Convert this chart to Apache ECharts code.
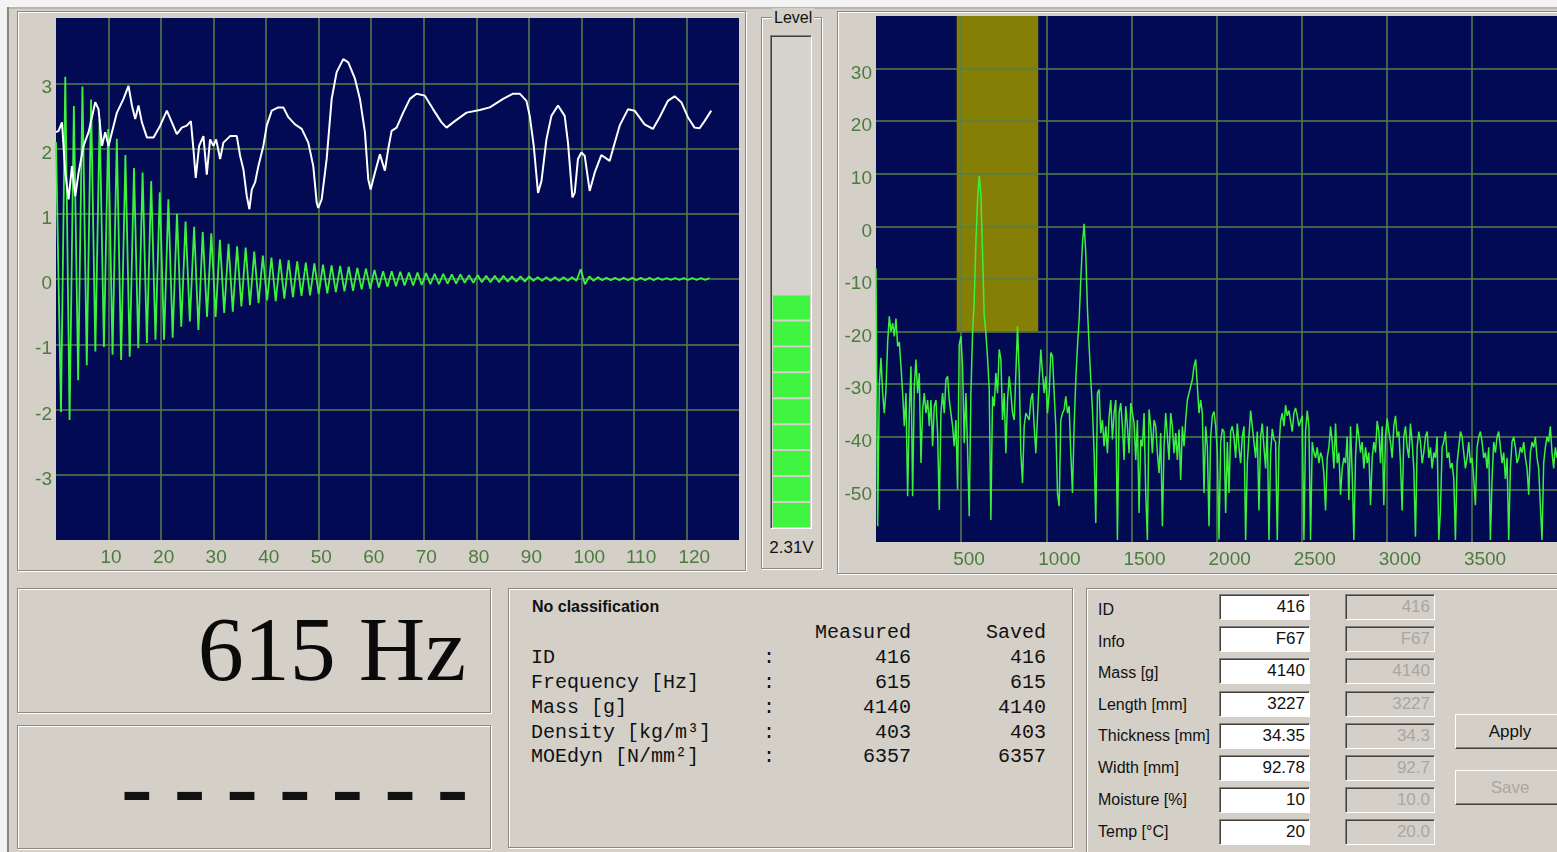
<!DOCTYPE html>
<html>
<head>
<meta charset="utf-8">
<title>Resonance measurement</title>
<script src="https://cdn.jsdelivr.net/npm/echarts@6.0.0/dist/echarts.min.js"></script>
<style>
html,body{margin:0;padding:0;}
body{width:1557px;height:852px;overflow:hidden;background:#d4d0c8;position:relative;font-family:"Liberation Sans",Arial,sans-serif;color:#111;}
.etch{position:absolute;box-sizing:border-box;border:1px solid #8c8982;box-shadow:inset 1px 1px 0 #fff,1px 1px 0 #fff;}
.sunk{position:absolute;box-sizing:border-box;border-top:1px solid #808080;border-left:1px solid #808080;border-bottom:1px solid #fff;border-right:1px solid #fff;box-shadow:inset 1px 1px 0 #404040;}
.lbl{position:absolute;font-size:16px;line-height:20px;white-space:nowrap;}
.mono{position:absolute;font-family:"Liberation Mono","Courier New",monospace;font-size:20px;line-height:24px;height:24px;white-space:pre;color:#111;}
.btn{position:absolute;box-sizing:border-box;border-top:1px solid #fff;border-left:1px solid #fff;border-right:1px solid #404040;border-bottom:1px solid #404040;box-shadow:inset -1px -1px 0 #808080;text-align:center;font-size:17px;}
.box{position:absolute;box-sizing:border-box;border-top:1px solid #808080;border-left:1px solid #808080;border-bottom:1px solid #fff;border-right:1px solid #fff;box-shadow:inset 1px 1px 0 #404040;font-size:17px;text-align:right;padding-right:4px;line-height:24px;height:26px;}
#chart{position:absolute;left:0;top:0;width:1557px;height:852px;z-index:5;}
</style>
</head>
<body>
<!-- window chrome -->
<div style="position:absolute;left:0;top:0;width:1557px;height:7px;background:#f3f3f3;"></div>
<div style="position:absolute;left:0;top:7px;width:1557px;height:2px;background:#b8b5ae;"></div>
<div style="position:absolute;left:0;top:0;width:7px;height:852px;background:#f3f3f3;"></div>
<div style="position:absolute;left:7px;top:7px;width:2px;height:845px;background:#8a8780;"></div>

<!-- chart panels -->
<div class="etch" style="left:17px;top:11px;width:729px;height:560px;"></div>
<div class="etch" style="left:761px;top:17px;width:61px;height:552px;"></div>
<div class="lbl" style="left:772px;top:8px;background:#d4d0c8;padding:0 2px;">Level</div>
<div class="sunk" style="left:770px;top:35px;width:42px;height:494px;background:#d6d3cc;"></div>
<div class="lbl" id="levelText" style="left:761px;width:61px;top:538px;text-align:center;font-size:17px;"></div>
<div class="etch" style="left:837px;top:11px;width:740px;height:563px;"></div>

<!-- bottom panels -->
<div class="etch" style="left:17px;top:588px;width:474px;height:125px;"></div>
<div id="bigFreq" style="position:absolute;left:0;top:603px;width:466px;text-align:right;font-family:'Liberation Serif','Times New Roman',serif;font-size:92px;line-height:92px;color:#0a0a0a;white-space:nowrap;"></div>
<div class="etch" style="left:17px;top:725px;width:474px;height:124px;"></div>
<div id="dashes" style="position:absolute;left:121px;top:739px;font-family:'Liberation Serif','Times New Roman',serif;font-weight:bold;font-size:95px;line-height:95px;letter-spacing:21px;color:#111;white-space:nowrap;"></div>

<div class="etch" style="left:508px;top:588px;width:565px;height:260px;"></div>
<div class="lbl" id="classTitle" style="left:532px;top:597px;font-weight:bold;"></div>
<div id="table"></div>

<div class="etch" style="left:1086px;top:588px;width:500px;height:300px;"></div>
<div id="form"></div>

<div id="chart"></div>

<script>
// ---------------- data ----------------
// time signal (left chart): alternating extremes of the decaying vibration, volts
const signalStartV = 2.1;
const firstTroughMs = 0.95;
const halfPeriodMs = 0.8175;
const signalPeaks = [
  3.1,2.65,2.95,2.75,2.45,2.3,2.15,1.9,1.7,1.63,
  1.5,1.33,1.22,1.0,0.88,0.8,0.72,0.7,0.6,0.54,
  0.5,0.48,0.42,0.36,0.33,0.3,0.29,0.27,0.25,0.24,
  0.22,0.21,0.2,0.19,0.17,0.16,0.14,0.12,0.12,0.11,
  0.1,0.1,0.09,0.08,0.08,0.07,0.07,0.06,0.06,0.05,
  0.05,0.05,0.04,0.04,0.04,0.03,0.03,0.03,0.03,0.03,
  0.15,0.04,0.03,0.02,0.02,0.02,0.02,0.02,0.02,0.02,
  0.015,0.015,0.015,0.015,0.015,0.015
];
const signalTroughs = [
  -2.04,-2.16,-1.55,-1.32,-1.11,-1.04,-1.16,-1.24,-1.19,-1.06,
  -0.98,-0.93,-0.93,-0.9,-0.73,-0.65,-0.78,-0.58,-0.58,-0.52,
  -0.5,-0.42,-0.4,-0.37,-0.33,-0.34,-0.3,-0.28,-0.26,-0.25,
  -0.23,-0.22,-0.2,-0.19,-0.18,-0.16,-0.15,-0.13,-0.12,-0.11,
  -0.1,-0.1,-0.09,-0.08,-0.08,-0.07,-0.07,-0.06,-0.06,-0.05,
  -0.05,-0.05,-0.04,-0.04,-0.04,-0.03,-0.03,-0.03,-0.03,-0.03,
  -0.03,-0.08,-0.03,-0.02,-0.02,-0.02,-0.02,-0.02,-0.02,-0.02,
  -0.015,-0.015,-0.015,-0.015,-0.015,-0.015
];
// white trace (left chart): [ms, value]
const whiteTrace = [
  [0,2.25],[0.49,2.27],[1.14,2.4],[1.77,1.63],[2.40,1.22],[3.04,1.73],[3.67,1.27],[4.30,1.63],[5.25,2.04],[6.20,2.25],
  [7.47,2.71],[8.10,2.6],[8.75,2.04],[9.37,2.25],[10.0,2.04],[10.65,2.25],[11.6,2.55],[12.85,2.76],[13.8,2.96],[14.45,2.66],
  [15.08,2.45],[15.7,2.66],[16.35,2.4],[17.3,2.17],[18.56,2.17],[19.83,2.35],[21.1,2.58],[22.05,2.4],[23.0,2.22],[23.95,2.32],
  [24.9,2.35],[25.67,2.42],[26.16,1.99],[26.6,1.55],[27.24,2.04],[28.06,2.19],[28.7,1.6],[29.33,2.14],[29.96,2.04],[30.48,2.14],
  [31.24,1.84],[31.86,2.09],[33.14,2.19],[34.41,2.19],[35.04,1.89],[35.67,1.68],[36.31,1.27],[36.81,1.07],[37.26,1.37],[37.89,1.48],
  [38.52,1.73],[39.47,2.04],[40.11,2.35],[41.06,2.58],[42.32,2.63],[43.27,2.63],[44.22,2.48],[45.49,2.37],[46.77,2.3],[48.02,2.09],
  [48.97,1.73],[49.62,1.17],[49.92,1.09],[50.57,1.22],[51.52,1.84],[52.47,2.76],[53.42,3.17],[54.68,3.37],[55.63,3.32],[56.9,3.07],
  [57.85,2.76],[58.8,2.25],[59.43,1.53],[59.89,1.37],[60.7,1.63],[61.65,1.91],[62.6,1.66],[63.23,1.99],[63.88,2.27],[64.83,2.32],
  [66.08,2.55],[67.36,2.76],[68.63,2.84],[70.2,2.81],[71.79,2.6],[73.38,2.4],[74.33,2.32],[75.91,2.42],[78.14,2.55],[80.67,2.59],
  [82.57,2.63],[85.1,2.76],[87.0,2.84],[88.27,2.84],[89.54,2.73],[90.17,2.5],[90.93,2.04],[91.75,1.32],[92.4,1.5],[93.35,2.14],
  [94.3,2.5],[95.55,2.66],[96.82,2.5],[97.45,2.09],[98.29,1.25],[98.73,1.32],[99.35,1.84],[100.0,1.94],[100.63,1.89],[101.58,1.35],
  [102.53,1.63],[103.8,1.9],[105.38,1.81],[106.0,1.99],[107.28,2.35],[108.86,2.6],[110.13,2.58],[112.03,2.37],[113.61,2.3],[114.89,2.48],
  [116.46,2.73],[117.74,2.8],[119.01,2.71],[120.27,2.48],[121.54,2.32],[122.5,2.31],[123.44,2.42],[124.71,2.58]
];
// spectrum (right chart): dB per FFT bin
const spectrumBinHz = 9.78;
const spectrumDb = [
  -8,-57,-30,-25,-31.7,-35.5,-31,-22,-17.1,-20,
  -18.4,-20.9,-17.5,-22.8,-22,-26.6,-31.7,-38,-31.7,-51.3,
  -35.5,-26.6,-51.3,-30.4,-25.3,-31.7,-27.9,-45,-34.8,-31.7,
  -35.5,-33,-38,-33,-41.8,-34.2,-33,-39.3,-53.9,-35.5,
  -31.7,-35.5,-29.1,-28.5,-33,-35.5,-38,-41.8,-36.8,-50,
  -22.5,-20.9,-26.6,-41.2,-31.7,-42.4,-55.1,-31.7,-20.3,-14,
  -3,5,9.6,6,-5,-17,-20.3,-25,-31,-55.8,
  -32.3,-34.2,-27.9,-31.7,-23.4,-25.3,-36.8,-31.7,-43.1,-33,
  -28.5,-31.7,-35.5,-36.8,-27.9,-19,-27.9,-43.1,-48.8,-38,
  -35.5,-35.5,-36.8,-33,-31.7,-38,-43.1,-36.1,-29.1,-23.4,
  -27.9,-31.7,-28.5,-35.5,-31.7,-24,-24.7,-31.7,-38,-50.7,
  -53.2,-36.8,-35.5,-34.8,-32.3,-35.5,-34.2,-43.1,-50.7,-38,
  -29.1,-22.8,-17.7,-10.1,-3.2,0.5,-5.1,-15.8,-22.8,-29.1,
  -34.8,-43.1,-56.4,-31.7,-31,-39.3,-36.8,-41.8,-38,-43.1,
  -36.1,-33,-40.5,-35.5,-33,-59.6,-35.5,-33.6,-38,-44.4,
  -34.2,-38,-43.1,-33.6,-35.5,-37.4,-44.4,-36.8,-54.5,-40.5,
  -41.8,-35.5,-50.7,-59.6,-34.8,-38,-43.1,-36.8,-38,-43.1,
  -46.9,-39.3,-57,-41.8,-35.5,-35.5,-44.4,-35.5,-38,-43.1,
  -39.3,-44.4,-38.6,-48.2,-38,-41.8,-36.8,-33,-31.7,-31.7,
  -29.1,-26.6,-25.3,-30.4,-35.5,-33,-35.5,-50.7,-38,-41.8,
  -57,
  -40,-36,-35.2,-38,-43,-59.5,-41,-38.5,-39,-54.5,
  -41,-50.7,-39,-38,-40,-44,-37.5,-42,-45,-40,
  -38,-59.6,-45,-40,-35,-38,-41,-44,-39,-54,
  -40,-37.5,-42,-46,-38,-59.6,-43,-38.5,-40.5,-41,
  -59.6,-42,-37,-35.5,-38,-34,-36,-35,-37,-39,
  -35.5,-34.5,-36,-38,-37,-36,-59.6,-39,-35,-38,
  -59.6,-41,-43,-44,-42,-45,-43,-44,-47,-54,
  -44,-42,-38,-41,-46,-37.5,-45,-43,-51,-46,
  -44,-45,-40,-52,-38,-47,-59.6,-44,-37.5,-40,
  -43,-41,-46,-42,-45,-43,-53,-44,-41,-43,
  -37,-39,-45,-38,-53,-40,-36.5,-39,-41,-44,
  -38,-36,-40,-39,-45,-54,-40,-38,-42,-44,
  -37.5,-41,-46,-59,-42,-39,-41,-45,-43,-40,
  -39,-44,-42,-46,-43,-44,-40,-59.6,-54,-42,
  -41,-39,-44,-43,-46,-45,-48,-59.6,-45,-42,
  -39,-40,-43,-46,-44,-41,-45,-44,-48,-53,
  -42,-40,-39,-41,-44,-43,-46,-42,-59.6,-48,
  -41,-43,-40,-39,-42,-45,-43,-48,-44,-59.6,
  -46,-41,-40,-42,-45,-44,-42,-43,-41,-44,
  -46,-51,-43,-41,-42,-40,-44,-46,-53,-59.6,
  -45,-42,-40,-41,-38,-43,-46,-42,-44
];
const bandHz = [474, 953];
const bandDb = [40, -20];
const levelVolts = 2.31;
const levelMaxV = 5.0;

// text data
const bigFrequency = '615 Hz';
const classTitle = 'No classification';
const tableLabels = ['ID', 'Frequency [Hz]', 'Mass [g]', 'Density [kg/m³]', 'MOEdyn [N/mm²]'];
const tableMeasured = ['416', '615', '4140', '403', '6357'];
const tableSaved = ['416', '615', '4140', '403', '6357'];
const formLabels = ['ID', 'Info', 'Mass [g]', 'Length [mm]', 'Thickness [mm]', 'Width [mm]', 'Moisture [%]', 'Temp [°C]'];
const formValues = ['416', 'F67', '4140', '3227', '34.35', '92.78', '10', '20'];
const formSaved = ['416', 'F67', '4140', '3227', '34.3', '92.7', '10.0', '20.0'];

// ---------------- HTML text ----------------
document.getElementById('bigFreq').textContent = bigFrequency;
document.getElementById('dashes').textContent = '-------';
document.getElementById('classTitle').textContent = classTitle;
document.getElementById('levelText').textContent = levelVolts.toFixed(2) + 'V';
(function(){
  const t = document.getElementById('table');
  let h = '';
  h += '<div class="mono" style="left:811px;width:100px;text-align:right;top:621px;">Measured</div>';
  h += '<div class="mono" style="left:946px;width:100px;text-align:right;top:621px;">Saved</div>';
  const rowY = [658, 683, 708, 733, 757];
  tableLabels.forEach((l, i) => {
    const top = rowY[i] - 12;
    h += '<div class="mono" style="left:531px;top:' + top + 'px;">' + l + '</div>';
    h += '<div class="mono" style="left:763px;top:' + top + 'px;">:</div>';
    h += '<div class="mono" style="left:811px;width:100px;text-align:right;top:' + top + 'px;">' + tableMeasured[i] + '</div>';
    h += '<div class="mono" style="left:946px;width:100px;text-align:right;top:' + top + 'px;">' + tableSaved[i] + '</div>';
  });
  t.innerHTML = h;
  const f = document.getElementById('form');
  let g = '';
  const boxY = [607, 639, 671, 704, 736, 768, 800, 832];
  const lblY = [610, 642, 673, 705, 736, 768, 800, 832];
  formLabels.forEach((l, i) => {
    g += '<div class="lbl" style="left:1098px;top:' + (lblY[i] - 10) + 'px;font-size:16px;">' + l + '</div>';
    g += '<div class="box" style="left:1219px;width:91px;top:' + (boxY[i] - 13) + 'px;background:#fff;color:#111;">' + formValues[i] + '</div>';
    g += '<div class="box" style="left:1345px;width:90px;top:' + (boxY[i] - 13) + 'px;background:#d4d0c8;color:#a9a6a0;">' + formSaved[i] + '</div>';
  });
  g += '<div class="btn" style="left:1455px;top:714px;width:110px;height:35px;line-height:33px;">Apply</div>';
  g += '<div class="btn" style="left:1455px;top:770px;width:110px;height:35px;line-height:33px;color:#a9a6a0;">Save</div>';
  f.innerHTML = g;
})();

// ---------------- chart ----------------
const signalData = [[0, signalStartV]];
for (let k = 0; k < signalPeaks.length; k++) {
  signalData.push([firstTroughMs + 2 * k * halfPeriodMs, signalTroughs[k]]);
  signalData.push([firstTroughMs + (2 * k + 1) * halfPeriodMs, signalPeaks[k]]);
}
const spectrumData = spectrumDb.map((db, i) => [i * spectrumBinHz, db]);

const GRID = '#55804b';
const LABEL = '#4b7b3e';
const FONT = 'Liberation Sans';
const NAVY = '#010a52';

function splitLine() {
  return { show: true, showMinLine: false, showMaxLine: false, lineStyle: { color: GRID, width: 1.5 } };
}
function xLabel(min, max) {
  return { color: LABEL, fontSize: 19, fontFamily: FONT, margin: 8, align: 'left', padding: [0, 0, 0, -8],
    formatter: v => (v === min || v === max) ? '' : String(v) };
}
// labels sit a few pixels below their grid line: an empty first line shifts the text down
function yLabel(min, max) {
  return { color: LABEL, fontSize: 19, fontFamily: FONT, margin: 4, lineHeight: 10, verticalAlign: 'middle',
    formatter: v => (v === min || v === max) ? '' : '\n' + String(v) };
}

const chart = echarts.init(document.getElementById('chart'), null, { renderer: 'canvas' });
chart.setOption({
  backgroundColor: 'transparent',
  animation: false,
  grid: [
    { left: 56, top: 18, width: 683, height: 522, show: true, backgroundColor: NAVY, borderWidth: 0, outerBoundsMode: 'none' },
    { left: 773, top: 36, width: 37, height: 491, show: false, outerBoundsMode: 'none' },
    { left: 876, top: 16, width: 681, height: 526, show: true, backgroundColor: NAVY, borderWidth: 0, outerBoundsMode: 'none' }
  ],
  xAxis: [
    { gridIndex: 0, type: 'value', min: 0, max: 130, interval: 10, axisLine: { show: false }, axisTick: { show: false },
      splitLine: splitLine(), axisLabel: xLabel(0, 130) },
    { gridIndex: 1, type: 'category', data: ['level'], show: false },
    { gridIndex: 2, type: 'value', min: 0, max: 4000, interval: 500, z: 3, axisLine: { show: false }, axisTick: { show: false },
      splitLine: splitLine(), axisLabel: xLabel(0, 4000) }
  ],
  yAxis: [
    { gridIndex: 0, type: 'value', min: -4, max: 4, interval: 1, axisLine: { show: false }, axisTick: { show: false },
      splitLine: splitLine(), axisLabel: yLabel(-4, 4) },
    { gridIndex: 1, type: 'value', min: 0, max: levelMaxV, show: false },
    { gridIndex: 2, type: 'value', min: -60, max: 40, interval: 10, z: 3, axisLine: { show: false }, axisTick: { show: false },
      splitLine: splitLine(), axisLabel: yLabel(-60, 40) }
  ],
  series: [
    { type: 'line', xAxisIndex: 0, yAxisIndex: 0, data: signalData, symbol: 'none', clip: true,
      lineStyle: { color: '#3ff03f', width: 1.8 }, z: 2 },
    { type: 'line', xAxisIndex: 0, yAxisIndex: 0, data: whiteTrace, symbol: 'none', clip: true,
      lineStyle: { color: '#ffffff', width: 2 }, z: 3 },
    { type: 'pictorialBar', xAxisIndex: 1, yAxisIndex: 1, data: [levelVolts], symbol: 'rect',
      symbolRepeat: true, symbolSize: [37, 24], symbolMargin: 1, symbolPosition: 'start',
      itemStyle: { color: '#3ff53f' }, z: 2 },
    { type: 'line', xAxisIndex: 2, yAxisIndex: 2, data: [], symbol: 'none', z: 1,
      markArea: { silent: true, z: 1, itemStyle: { color: '#857f06' },
        data: [[{ coord: [bandHz[0], bandDb[0]] }, { coord: [bandHz[1], bandDb[1]] }]] } },
    { type: 'line', xAxisIndex: 2, yAxisIndex: 2, data: spectrumData, symbol: 'none', clip: true,
      lineStyle: { color: '#3cf03c', width: 1.5 }, z: 4 }
  ]
});
</script>
</body>
</html>
